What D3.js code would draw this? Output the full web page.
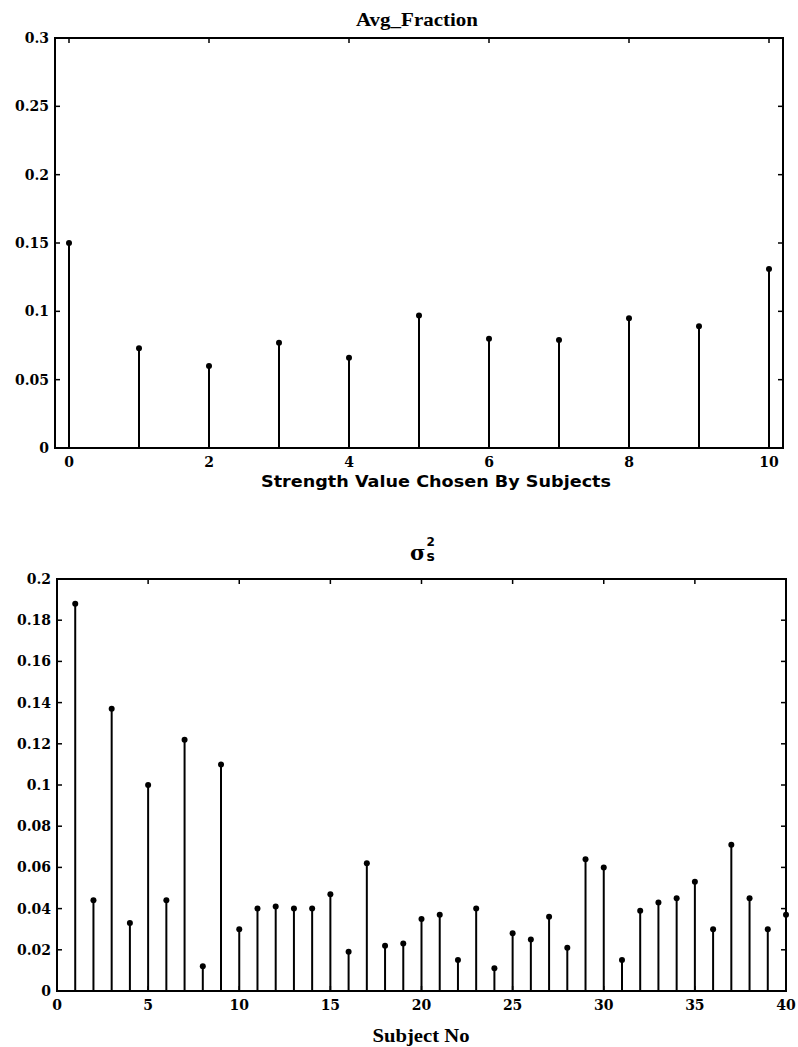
<!DOCTYPE html>
<html>
<head>
<meta charset="utf-8">
<script src="https://cdn.jsdelivr.net/npm/d3@7"></script>
<style>
  body { margin: 0; background: #fff; }
  svg { display: block; }
</style>
</head>
<body>
<div id="chart"></div>
<script>
// top panel: strength values 0..10
var strengthValues = [0, 1, 2, 3, 4, 5, 6, 7, 8, 9, 10];
var avgFraction = [0.150, 0.073, 0.060, 0.077, 0.066, 0.097, 0.080, 0.079, 0.095, 0.089, 0.131];
var topXTicks = [0, 2, 4, 6, 8, 10];
var topYTicks = [0, 0.05, 0.1, 0.15, 0.2, 0.25, 0.3];
var topYLabels = ["0", "0.05", "0.1", "0.15", "0.2", "0.25", "0.3"];

// bottom panel: subjects 1..40
var subjects = d3.range(1, 41);
var sigmaS2 = [0.188, 0.044, 0.137, 0.033, 0.100, 0.044, 0.122, 0.012, 0.110, 0.030,
               0.040, 0.041, 0.040, 0.040, 0.047, 0.019, 0.062, 0.022, 0.023, 0.035,
               0.037, 0.015, 0.040, 0.011, 0.028, 0.025, 0.036, 0.021, 0.064, 0.060,
               0.015, 0.039, 0.043, 0.045, 0.053, 0.030, 0.071, 0.045, 0.030, 0.037];
var botXTicks = [0, 5, 10, 15, 20, 25, 30, 35, 40];
var botYTicks = [0, 0.02, 0.04, 0.06, 0.08, 0.1, 0.12, 0.14, 0.16, 0.18, 0.2];
var botYLabels = ["0", "0.02", "0.04", "0.06", "0.08", "0.1", "0.12", "0.14", "0.16", "0.18", "0.2"];

var svg = d3.select("#chart").append("svg")
    .attr("width", 798)
    .attr("height", 1047);

var tickFont = "'DejaVu Serif', serif";

function StemChart(box, xDomain, yDomain, xTicks, yTicks, yLabels) {
    this.box = box;
    this.x = d3.scaleLinear().domain(xDomain).range([box.left, box.right]);
    this.y = d3.scaleLinear().domain(yDomain).range([box.bottom, box.top]);
    this.xTicks = xTicks;
    this.yTicks = yTicks;
    this.yLabels = yLabels;
    this.g = svg.append("g");
}

StemChart.prototype.createFrame = function() {
    var b = this.box, x = this.x, y = this.y, g = this.g;
    // ticks pointing inward, mirrored on all four sides
    g.append("g").selectAll("line").data(this.xTicks).join("line")
        .attr("x1", d => x(d)).attr("x2", d => x(d))
        .attr("y1", b.bottom).attr("y2", b.bottom - 5)
        .attr("stroke", "#000").attr("stroke-width", 1.5);
    g.append("g").selectAll("line").data(this.xTicks).join("line")
        .attr("x1", d => x(d)).attr("x2", d => x(d))
        .attr("y1", b.top).attr("y2", b.top + 5)
        .attr("stroke", "#000").attr("stroke-width", 1.5);
    g.append("g").selectAll("line").data(this.yTicks).join("line")
        .attr("x1", b.left).attr("x2", b.left + 5)
        .attr("y1", d => y(d)).attr("y2", d => y(d))
        .attr("stroke", "#000").attr("stroke-width", 1.5);
    g.append("g").selectAll("line").data(this.yTicks).join("line")
        .attr("x1", b.right).attr("x2", b.right - 5)
        .attr("y1", d => y(d)).attr("y2", d => y(d))
        .attr("stroke", "#000").attr("stroke-width", 1.5);

    g.append("rect")
        .attr("x", b.left).attr("y", b.top)
        .attr("width", b.right - b.left).attr("height", b.bottom - b.top)
        .attr("fill", "none").attr("stroke", "#000").attr("stroke-width", 2);

    var yLabels = this.yLabels;
    g.append("g").selectAll("text").data(this.yTicks).join("text")
        .attr("x", b.left - 6)
        .attr("y", d => y(d))
        .attr("dy", "0.36em")
        .attr("text-anchor", "end")
        .style("font-family", tickFont)
        .style("font-weight", "bold")
        .style("font-size", "14px")
        .text((d, i) => yLabels[i]);

    g.append("g").selectAll("text").data(this.xTicks).join("text")
        .attr("x", d => x(d))
        .attr("y", b.bottom + 19)
        .attr("text-anchor", "middle")
        .style("font-family", tickFont)
        .style("font-weight", "bold")
        .style("font-size", "14px")
        .text(d => d);
}

StemChart.prototype.createStems = function(xs, values) {
    var x = this.x, y = this.y;
    var data = xs.map((d, i) => ({key: d, value: values[i]}));
    this.g.append("g").selectAll("line").data(data).join("line")
        .attr("x1", d => x(d.key)).attr("x2", d => x(d.key))
        .attr("y1", y(0)).attr("y2", d => y(d.value))
        .attr("stroke", "#000").attr("stroke-width", 2);
    this.g.append("g").selectAll("circle").data(data).join("circle")
        .attr("cx", d => x(d.key)).attr("cy", d => y(d.value))
        .attr("r", 3)
        .attr("fill", "#000");
}

// ---- top chart ----
var fractionChart = new StemChart({left: 55, right: 783, top: 38, bottom: 448},
    [-0.2, 10.2], [0, 0.3], topXTicks, topYTicks, topYLabels);
fractionChart.createFrame();
fractionChart.createStems(strengthValues, avgFraction);

svg.append("text")
    .attr("x", 417).attr("y", 26)
    .attr("text-anchor", "middle")
    .attr("textLength", 122)
    .attr("lengthAdjust", "spacingAndGlyphs")
    .style("font-family", "'Liberation Serif', serif")
    .style("font-weight", "bold")
    .style("font-size", "19px")
    .text("Avg_Fraction");

svg.append("text")
    .attr("x", 436).attr("y", 487)
    .attr("text-anchor", "middle")
    .attr("textLength", 350)
    .attr("lengthAdjust", "spacingAndGlyphs")
    .style("font-family", "'DejaVu Sans', sans-serif")
    .style("font-weight", "bold")
    .style("font-size", "15px")
    .text("Strength Value Chosen By Subjects");

// ---- bottom chart ----
var varianceChart = new StemChart({left: 57, right: 786, top: 579, bottom: 991},
    [0, 40], [0, 0.2], botXTicks, botYTicks, botYLabels);
varianceChart.createFrame();
varianceChart.createStems(subjects, sigmaS2);

// sigma_s^2 title
var sig = svg.append("text")
    .attr("x", 410).attr("y", 560)
    .style("font-family", "'DejaVu Serif', serif")
    .style("font-weight", "bold")
    .style("font-size", "21px")
    .text("σ");
var sw = sig.node().getComputedTextLength();
svg.append("text")
    .attr("x", 410 + sw + 1).attr("y", 546)
    .style("font-family", "'DejaVu Sans', sans-serif")
    .style("font-weight", "bold")
    .style("font-size", "12px")
    .text("2");
svg.append("text")
    .attr("x", 410 + sw + 1).attr("y", 561)
    .style("font-family", "'DejaVu Sans', sans-serif")
    .style("font-weight", "bold")
    .style("font-size", "14px")
    .text("s");

svg.append("text")
    .attr("x", 421).attr("y", 1042)
    .attr("text-anchor", "middle")
    .attr("textLength", 97)
    .attr("lengthAdjust", "spacingAndGlyphs")
    .style("font-family", "'Liberation Serif', serif")
    .style("font-weight", "bold")
    .style("font-size", "19px")
    .text("Subject No");
</script>
</body>
</html>
